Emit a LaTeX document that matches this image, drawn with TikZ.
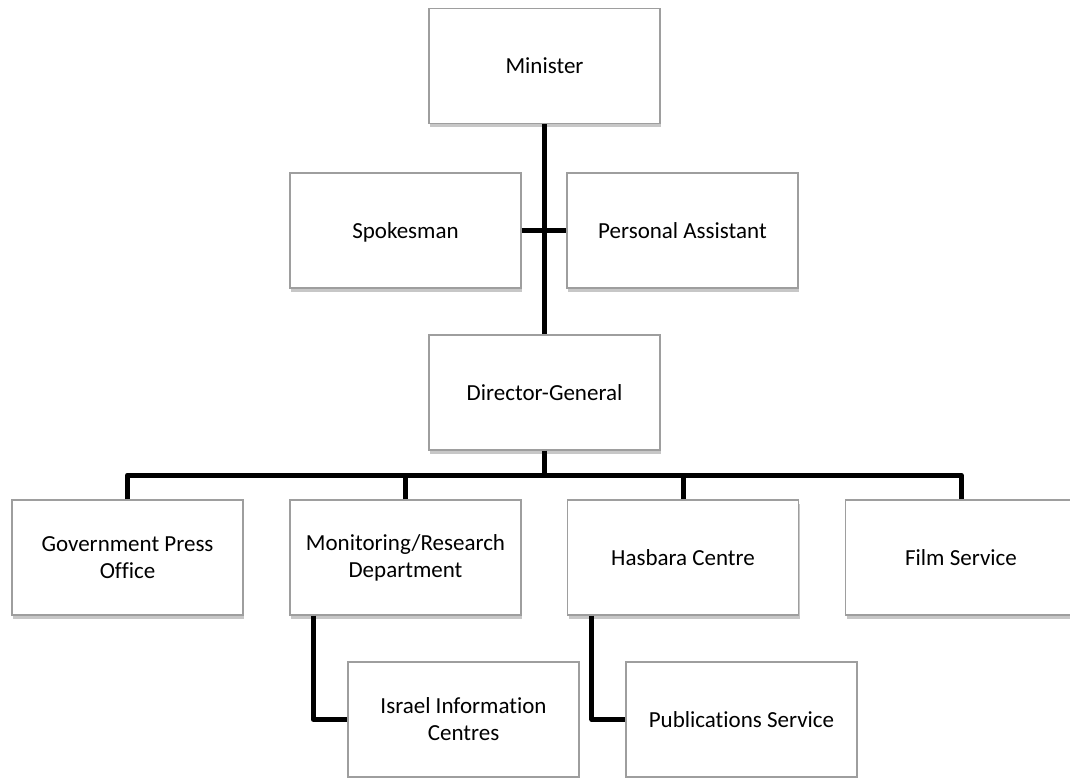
\documentclass[tikz,border=0pt]{standalone}
\usepackage{fontspec}
\setmainfont{Carlito}[Ligatures={NoCommon}]
\usetikzlibrary{shadows}
\begin{document}
\begin{tikzpicture}[x=1pt,y=-1pt,
  orgbox/.style={draw=black!38, line width=1.2pt, fill=white,
    minimum width=231pt, minimum height=115pt, inner sep=2pt, align=center,
    font=\fontsize{23}{27}\selectfont,
    drop shadow={shadow xshift=1pt, shadow yshift=-3.5pt, fill=black, opacity=0.22}},
  oneline/.style={text height=20pt, text depth=4pt},
  conn/.style={line width=5pt, line join=round, line cap=butt}]
\fill[white] (0,0) rectangle (1070,778);
\useasboundingbox (0,0) rectangle (1070,778);
% nodes
\node[orgbox,oneline] (min) at (544.5,66) {Minister};
\node[orgbox,oneline] (spk) at (405.5,230.5) {Spokesman};
\node[orgbox,oneline] (pa) at (682.5,230.5) {Personal Assistant};
\node[orgbox,oneline] (dg) at (544.5,392.5) {Director-General};
\node[orgbox] (gpo) at (127.5,557.5) {Government Press\\Office};
\node[orgbox] (mon) at (405.5,557.5) {Monitoring/Research\\Department};
\node[orgbox,oneline] (has) at (683,557.5) {Hasbara Centre};
\node[orgbox,oneline] (film) at (961,557.5) {Film Service};
\node[orgbox] (iic) at (463.5,719.5) {Israel Information\\Centres};
\node[orgbox,oneline] (pub) at (741.5,719.5) {Publications Service};
\coordinate (bus) at (544.5,475);
% connectors
\draw[conn] (min.south) -- (dg.north);
\draw[conn] (spk.east) -- (pa.west);
\draw[conn] (dg.south) -- (bus);
\draw[conn] (gpo.north) |- (film.north |- bus) -- (film.north);
\draw[conn] (mon.north) -- (mon.north |- bus);
\draw[conn] (has.north) -- (has.north |- bus);
\draw[conn] ([xshift=24pt]mon.south west) |- (iic.west);
\draw[conn] ([xshift=25pt]has.south west) |- (pub.west);
\end{tikzpicture}
\end{document}
